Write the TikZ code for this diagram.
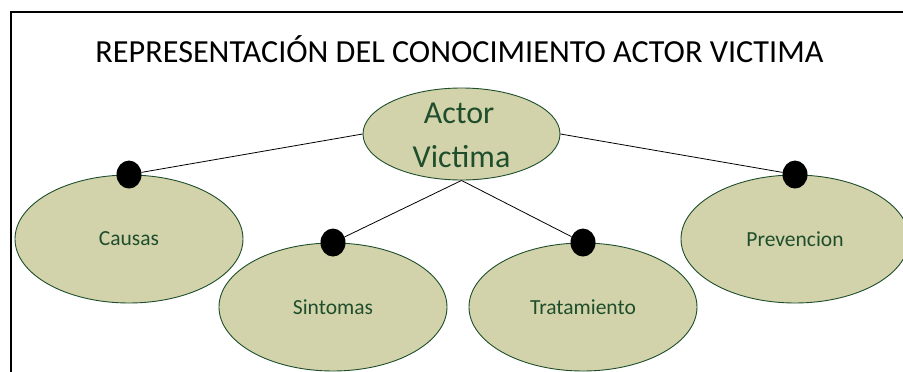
\documentclass[tikz,border=0pt]{standalone}
\usepackage{fontspec}
\setmainfont{Carlito}
\usetikzlibrary{shapes.geometric}
\definecolor{olivefill}{RGB}{211,211,171}
\definecolor{darkgreen}{RGB}{30,78,44}
\tikzset{
  topic/.style={ellipse, draw=darkgreen, line width=0.9pt, fill=olivefill,
    minimum width=228pt, minimum height=128pt, inner sep=0pt,
    text=darkgreen, font=\fontsize{21.5}{26}\selectfont},
  central/.style={ellipse, draw=darkgreen, line width=0.9pt, fill=olivefill,
    minimum width=197pt, minimum height=92pt, inner sep=0pt,
    text=darkgreen, align=center, font=\fontsize{32}{44}\selectfont},
  knob/.style={ellipse, fill=black, minimum width=25pt, minimum height=28pt, inner sep=0pt},
  link/.style={draw=black, line width=0.8pt}
}
\begin{document}
\begin{tikzpicture}[x=1pt,y=-1pt]
\useasboundingbox (0,0) rectangle (903,372);
\clip (0,0) rectangle (903,372);
\fill[white] (0,0) rectangle (903,372);
\draw[line width=2pt] (11,380) -- (11,12) -- (910,12);
\node[anchor=base, font=\fontsize{32.2}{38}\selectfont] (title) at (459.5,62) {REPRESENTACIÓN DEL CONOCIMIENTO ACTOR VICTIMA};
\node[central] (act) at (461.5,134) {};
\node[anchor=base, text=darkgreen, font=\fontsize{32}{38}\selectfont] (actA) at (459,123.5) {Actor};
\node[anchor=base, text=darkgreen, font=\fontsize{32}{38}\selectfont] (actV) at (461.5,167) {Victima};
\node[topic] (cau) at (129,239) {Causas};
\node[topic] (sin) at (333,307) {Sintomas};
\node[topic] (tra) at (583,307) {Tratamiento};
\node[topic] (pre) at (795,239) {Prevencion};
\node[knob] (kc) at (cau.north) {};
\node[knob] (ks) at (sin.north) {};
\node[knob] (kt) at (tra.north) {};
\node[knob] (kp) at (pre.north) {};
\draw[link] (act.west) -- (kc);
\draw[link] (act.east) -- (kp);
\draw[link] (act.south) -- (ks);
\draw[link] (act.south) -- (kt);
\end{tikzpicture}
\end{document}
